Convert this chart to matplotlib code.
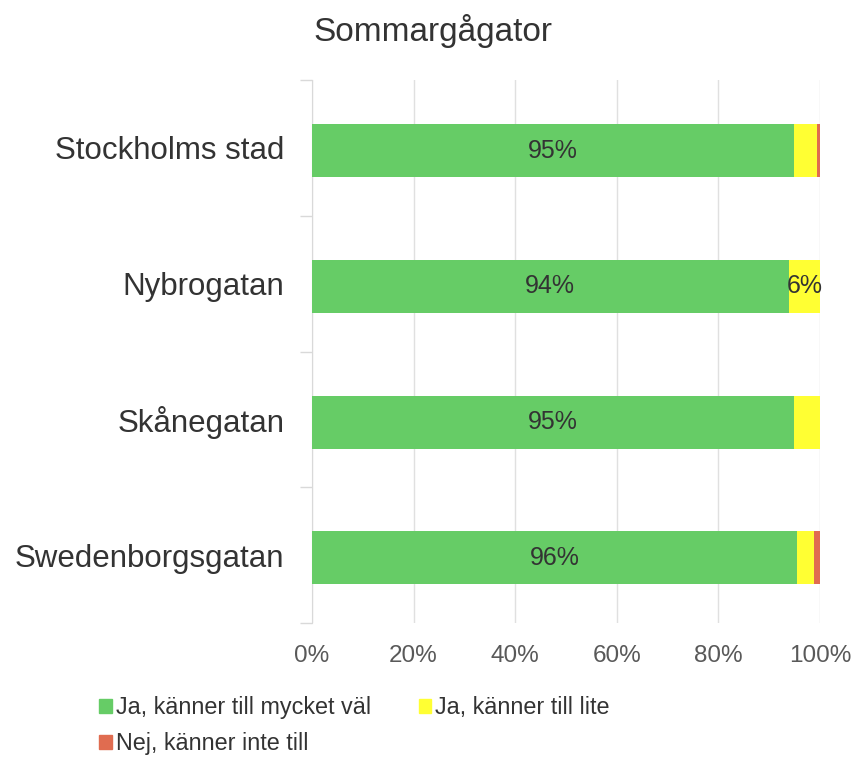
import numpy as np
import matplotlib
matplotlib.use('Agg')
import matplotlib.pyplot as plt
from matplotlib.patches import Patch

plt.rcParams['font.family'] = ['Liberation Sans', 'DejaVu Sans']

# Data
categories = ['Stockholms stad', 'Nybrogatan', 'Skånegatan', 'Swedenborgsgatan']
series_names = ['Ja, känner till mycket väl', 'Ja, känner till lite', 'Nej, känner inte till']
very_well = [94.9, 93.8, 94.8, 95.5]
a_little = [4.5, 6.2, 5.2, 3.3]
not_at_all = [0.6, 0, 0, 1.2]
colors = ['#66cc66', '#ffff33', '#e06c50']

fig = plt.figure(figsize=(8.54, 7.58), dpi=100)
ax = fig.add_axes([312 / 854, 1 - 623 / 758, 508 / 854, 543 / 758])

y = np.arange(len(categories))
left = np.zeros(len(categories))
for vals, col in zip([very_well, a_little, not_at_all], colors):
    vals = np.array(vals, dtype=float)
    bars = ax.barh(y + 0.02, vals, left=left, height=0.39, color=col, zorder=3)
    for b, v in zip(bars, vals):
        if v >= 6:
            ax.text(b.get_x() + b.get_width() / 2, b.get_y() + b.get_height() / 2,
                    f'{v:.0f}%', ha='center', va='center', fontsize=18,
                    color='#333333', zorder=4)
    left += vals

ax.set_xlim(0, 100)
ax.set_ylim(len(categories) - 0.5, -0.5)
ax.set_xticks(np.arange(0, 101, 20))
ax.set_xticklabels([f'{t}%' for t in range(0, 101, 20)], fontsize=17.5, color='#595959')
ax.tick_params(axis='x', length=0, pad=16)
ax.set_yticks(y)
ax.set_yticklabels(categories, fontsize=22.5, color='#333333')
ax.set_yticks(np.arange(-0.5, len(categories)), minor=True)
ax.tick_params(axis='y', which='major', length=0, pad=20)
ax.tick_params(axis='y', which='minor', length=9, color='#d9d9d9', width=1)
ax.grid(axis='x', color='#e0e0e0', linewidth=1, zorder=0)
for s in ['top', 'right', 'bottom']:
    ax.spines[s].set_visible(False)
ax.spines['left'].set_color('#d9d9d9')

fig.text(433 / 854, 1 - 31 / 758, 'Sommargågator', ha='center', va='center',
         fontsize=24, color='#333333')

handles = [Patch(color=c) for c in colors]
order = [0, 2, 1]
fig.legend([handles[i] for i in order], [series_names[i] for i in order],
           ncol=2, loc='upper left', bbox_to_anchor=(90 / 854, 1 - 687 / 758),
           frameon=False, fontsize=16.8, handlelength=0.55, handleheight=0.55,
           handletextpad=0.15, columnspacing=2.05, labelspacing=0.55,
           labelcolor='#333333', borderaxespad=0)

fig.savefig('out.png', dpi=100)
